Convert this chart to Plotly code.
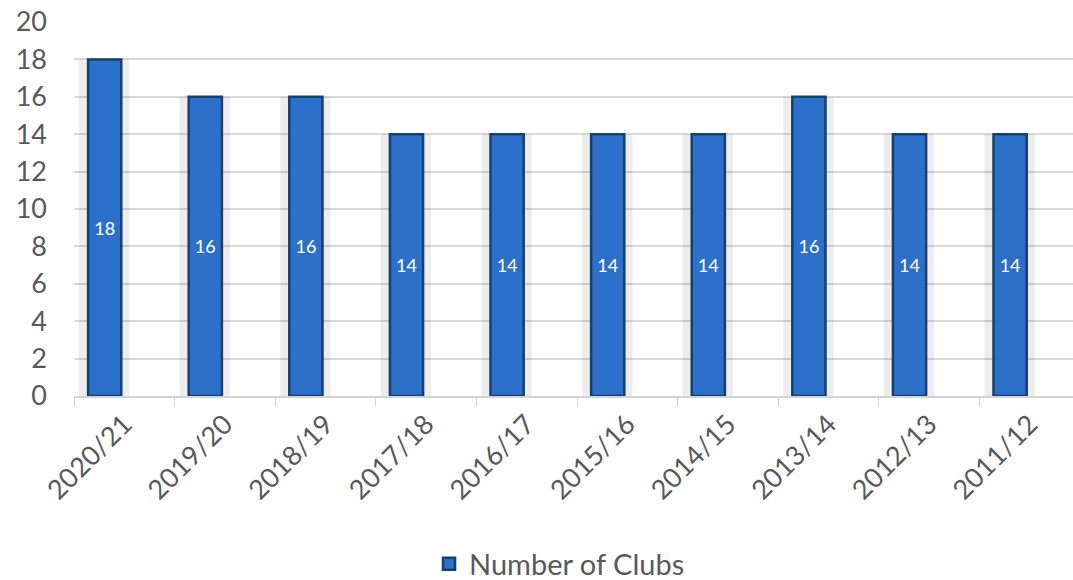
import plotly.graph_objects as go

seasons = ["2020/21", "2019/20", "2018/19", "2017/18", "2016/17",
           "2015/16", "2014/15", "2013/14", "2012/13", "2011/12"]
clubs = [18, 16, 16, 14, 14, 14, 14, 16, 14, 14]
series_name = "Number of Clubs"
y_ticks = [0, 2, 4, 6, 8, 10, 12, 14, 16, 18, 20]

FONT = "Lato"
GREY = "#595959"

fig = go.Figure()
# soft shadow behind bars (decoration)
fig.add_trace(go.Bar(
    x=seasons, y=clubs, width=0.5, offset=-0.45,
    marker=dict(color="rgba(0,0,0,0.07)", line=dict(width=0)),
    showlegend=False, hoverinfo="skip",
))
fig.add_trace(go.Bar(
    x=seasons, y=clubs, name=series_name,
    width=0.33, offset=-0.36,
    marker=dict(color="#2C70CA", line=dict(color="#173F70", width=2.5)),
    text=[str(v) for v in clubs],
    textposition="inside", insidetextanchor="middle",
    textfont=dict(color="white", size=18, family=FONT),
    textangle=0,
))

fig.update_layout(
    width=1073, height=580,
    margin=dict(l=74, r=0, t=22, b=184, autoexpand=False),
    paper_bgcolor="white", plot_bgcolor="white",
    font=dict(family=FONT, color=GREY),
    showlegend=True,
    barmode="overlay",
    legend=dict(orientation="h", x=0.486, xanchor="center", y=-0.449, yanchor="middle",
                font=dict(size=29, color=GREY, family=FONT)),
)
fig.update_xaxes(
    type="category", range=[-0.5, 9.43], automargin=False,
    tickangle=-45, tickfont=dict(size=27, color=GREY, family=FONT),
    showline=True, linecolor="#D4D4D4", linewidth=1.5,
    ticks="outside", ticklen=8, tickcolor="#D4D4D4", tickson="boundaries",
    showgrid=False, ticklabeloverflow="allow",
)
fig.update_yaxes(
    range=[0, 20], tickvals=y_ticks, automargin=False,
    tickfont=dict(size=27, color=GREY, family=FONT),
    ticklabelstandoff=26, ticklabeloverflow="allow",
    showgrid=True, gridcolor="#D9D9D9", gridwidth=1.5,
    zeroline=False, showline=False, ticks="",
)

fig.write_html("out.html", config={"displayModeBar": False},
               post_script="document.body.style.margin='0';document.body.style.overflow='hidden';")
